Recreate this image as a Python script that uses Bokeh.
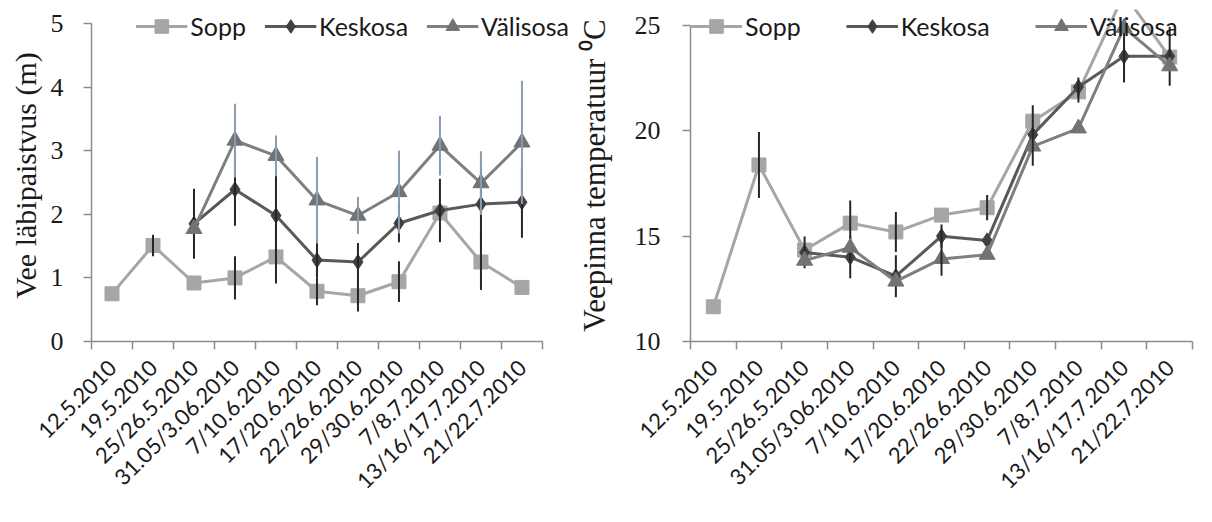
import numpy as np
from bokeh.plotting import figure
from bokeh.models import Range1d, FixedTicker, Legend, LegendItem
from bokeh.layouts import row
from bokeh.embed import file_html
from bokeh.resources import INLINE

nan = float("nan")

dates = ["12.5.2010", "19.5.2010", "25/26.5.2010", "31.05/3.06.2010", "7/10.6.2010",
         "17/20.6.2010", "22/26.6.2010", "29/30.6.2010", "7/8.7.2010",
         "13/16/17.7.2010", "21/22.7.2010"]

# Left panel: water transparency (m)
sopp_secchi = [0.75, 1.51, 0.92, 1.0, 1.33, 0.79, 0.72, 0.94, 2.02, 1.25, 0.85]
sopp_secchi_err = [0, 0.17, 0, 0.34, 0.42, 0.22, 0.25, 0.32, 0, 0.44, 0]
keskosa_secchi = [nan, nan, 1.85, 2.39, 1.98, 1.28, 1.25, 1.86, 2.06, 2.16, 2.19]
keskosa_secchi_err = [0, 0, 0.55, 0.57, 0.70, 0.27, 0.30, 0.30, 0.50, 0.60, 0.56]
valisosa_secchi = [nan, nan, 1.77, 3.16, 2.92, 2.22, 1.98, 2.35, 3.08, 2.49, 3.13]
valisosa_secchi_err = [0, 0, 0, 0.58, 0.32, 0.68, 0.29, 0.65, 0.47, 0.50, 0.97]

# Right panel: surface water temperature (C)
sopp_temp = [11.65, 18.38, 14.34, 15.62, 15.2, 16.0, 16.35, 20.46, 21.85, 26.5, 23.5]
sopp_temp_err = [0, 1.57, 0, 1.07, 0.95, 0, 0.6, 0.75, 0.5, 0, 0]
keskosa_temp = [nan, nan, 14.23, 14.0, 13.1, 15.0, 14.8, 19.82, 22.08, 23.54, 23.54]
keskosa_temp_err = [0, 0, 0.75, 1.0, 1.0, 0.55, 0, 0, 0.45, 1.25, 1.4]
valisosa_temp = [nan, nan, 13.84, 14.46, 12.85, 13.92, 14.12, 19.26, 20.12, 24.9, 23.07]
valisosa_temp_err = [0, 0, 0, 0, 0, 0.8, 0, 0.92, 0, 0, 0]

series_names = ["Sopp", "Keskosa", "Välisosa"]
line_colors = ["#a6a6a6", "#595959", "#7f7f7f"]
marker_colors = ["#a6a6a6", "#404040", "#737373"]
markers = ["square", "diamond", "triangle"]
marker_sizes = [14, 15, 16]

SANS = "Lato"
SERIF = "Liberation Serif"
AXIS_COL = "#8c8c8c"

x = np.arange(1, len(dates) + 1)
n = len(dates)


def make_fig(width, height, border_left, border_bottom, border_right,
             x_end, y_start, y_end, y_axis_top, y_ticks, ylabel, ylabel_size, label_standoff,
             tick_standoff, x_standoff, data, errs, err_colors,
             legend_loc, legend_spacing):
    p = figure(width=width, height=height, output_backend="svg", toolbar_location=None,
               x_range=Range1d(0.5, x_end), y_range=Range1d(y_start, y_end),
               min_border_left=border_left, min_border_top=9,
               min_border_bottom=border_bottom, min_border_right=border_right)
    p.outline_line_color = None
    p.xgrid.visible = False
    p.ygrid.visible = False
    p.background_fill_color = "white"
    p.border_fill_color = "white"

    items = []
    for i, name in enumerate(series_names):
        vals = np.array(data[i], dtype=float)
        err = np.array(errs[i], dtype=float)
        l = p.line(x, vals, line_color=line_colors[i], line_width=3)
        s = p.scatter(x, vals, marker=markers[i], size=marker_sizes[i],
                      fill_color=marker_colors[i], line_color=marker_colors[i])
        m = (err > 0) & ~np.isnan(vals)
        p.segment(x0=x[m], y0=(vals - err)[m], x1=x[m], y1=(vals + err)[m],
                  line_color=err_colors[i], line_width=2)
        items.append(LegendItem(label=name, renderers=[l, s]))

    legend = Legend(items=items, location=legend_loc, orientation="horizontal",
                    glyph_width=52, glyph_height=34, label_standoff=3,
                    spacing=legend_spacing, padding=0, margin=0,
                    background_fill_alpha=0, border_line_color=None,
                    label_text_font=SANS, label_text_font_size="25px",
                    label_text_color="#1a1a1a", label_height=34)
    p.add_layout(legend)

    # y axis
    ya = p.yaxis[0]
    ya.ticker = FixedTicker(ticks=y_ticks)
    ya.bounds = (y_start, y_axis_top)
    ya.axis_line_color = AXIS_COL
    ya.axis_line_width = 1.5
    ya.major_tick_line_color = AXIS_COL
    ya.major_tick_line_width = 1.5
    ya.major_tick_out = 8
    ya.major_tick_in = 0
    ya.minor_tick_line_color = None
    ya.major_label_text_font = SERIF
    ya.major_label_text_font_size = "26px"
    ya.major_label_text_color = "#1a1a1a"
    ya.major_label_standoff = tick_standoff
    ya.axis_label = ylabel
    ya.axis_label_text_font = SERIF
    ya.axis_label_text_font_size = ylabel_size
    ya.axis_label_text_font_style = "normal"
    ya.axis_label_text_color = "#1a1a1a"
    ya.axis_label_standoff = label_standoff

    # x axis with ticks between categories
    xa = p.xaxis[0]
    xa.ticker = FixedTicker(ticks=list(x), minor_ticks=list(np.arange(0.5, n + 1, 1.0)))
    xa.bounds = (0.5, n + 0.5)
    xa.major_label_overrides = {int(k): d for k, d in zip(x, dates)}
    xa.major_label_orientation = np.pi / 4
    xa.major_tick_line_color = None
    xa.minor_tick_line_color = AXIS_COL
    xa.minor_tick_line_width = 1.5
    xa.minor_tick_out = 8
    xa.minor_tick_in = 0
    xa.axis_line_color = AXIS_COL
    xa.axis_line_width = 1.5
    xa.major_label_text_font = SANS
    xa.major_label_text_font_size = "22px"
    xa.major_label_text_color = "#1a1a1a"
    xa.major_label_standoff = x_standoff
    return p


p1 = make_fig(573, 506, 91, 165, 4, n + 0.5 + 0.66, 0, 5.22, 5, [0, 1, 2, 3, 4, 5],
              "Vee läbipaistvus (m)", "30px", 6, 20, 14,
              [sopp_secchi, keskosa_secchi, valisosa_secchi],
              [sopp_secchi_err, keskosa_secchi_err, valisosa_secchi_err],
              ["#262626", "#262626", "#8a9caf"],
              "top_right", 18)

p2 = make_fig(623, 506, 117, 165, 4, n + 0.5, 10, 25.76, 25, [10, 15, 20, 25],
              "Veepinna temperatuur \u2070C", "31px", 20, 22, 14,
              [sopp_temp, keskosa_temp, valisosa_temp],
              [sopp_temp_err, keskosa_temp_err, valisosa_temp_err],
              ["#262626", "#262626", "#262626"],
              "top_left", 45)

layout = row(p1, p2)
open("out.html", "w").write(file_html(layout, INLINE))
